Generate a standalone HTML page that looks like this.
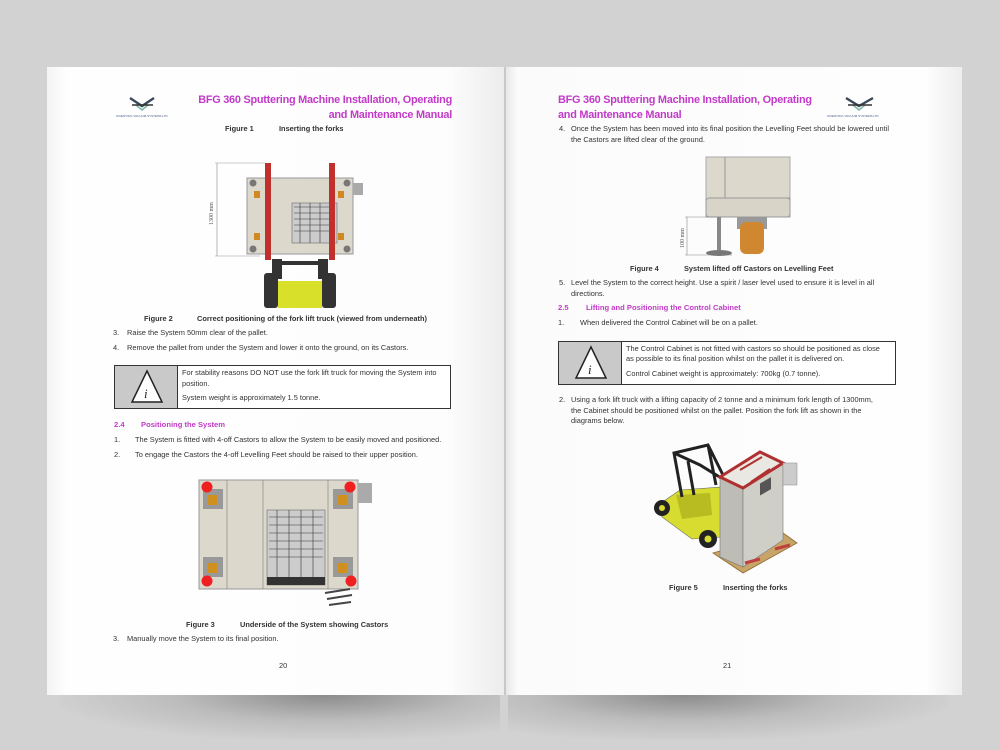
<!DOCTYPE html>
<html><head><meta charset="utf-8"><style>
*{margin:0;padding:0;box-sizing:border-box}
body{width:1000px;height:750px;background:#d2d2d2;position:relative;overflow:hidden;font-family:"Liberation Sans",sans-serif;color:#333}
.abs{position:absolute}
.t{position:absolute;font-size:7.4px;white-space:nowrap;color:#333;letter-spacing:0px}
.ttl{position:absolute;font-size:10.9px;font-weight:bold;color:#c23ac8;white-space:nowrap;letter-spacing:-0.25px}
.h{position:absolute;font-size:7.6px;font-weight:bold;color:#c23ac8;white-space:nowrap}
.page{position:absolute;top:67px;height:628px;background:#fdfdfd}
</style></head><body>
<div class="abs" style="left:60px;top:695px;width:440px;height:45px;background:radial-gradient(ellipse at 60% 0%,#8c8c8c 0%,#bcbcbc 40%,#d2d2d2 75%)"></div>
<div class="abs" style="left:508px;top:695px;width:440px;height:45px;background:radial-gradient(ellipse at 40% 0%,#8c8c8c 0%,#bcbcbc 40%,#d2d2d2 75%)"></div>
<div class="page" style="left:47px;width:458px;background:linear-gradient(90deg,#f4f4f4 0px,#fefefe 20px,#fdfdfd 400px,#ececec 458px)"></div>
<div class="page" style="left:505px;width:457px;background:linear-gradient(90deg,#e6e6e6 0px,#fbfbfb 12px,#fefefe 420px,#ededed 457px)"></div>
<div class="abs" style="left:504px;top:67px;width:2px;height:628px;background:#c8c8c8"></div>

<!-- left header -->
<svg class="abs" style="left:128px;top:96px" width="30" height="16"><path d="M2 2 L14 10 L26 2" stroke="#3a4a5a" stroke-width="2.4" fill="none"/><path d="M8 9 L14 14 L20 9" stroke="#7fb8a8" stroke-width="1.6" fill="none"/><line x1="4" y1="9" x2="25" y2="9" stroke="#333" stroke-width="1.4"/></svg>
<div class="abs" style="left:116px;top:114px;font-size:3px;color:#4a5a8a;white-space:nowrap">SCIENTIFIC VACUUM SYSTEMS LTD</div>
<div class="ttl" style="right:548px;top:94px">BFG 360 Sputtering Machine Installation, Operating</div>
<div class="ttl" style="right:548px;top:109px">and Maintenance Manual</div>
<div class="t" style="left:225px;top:124px;font-weight:bold">Figure 1</div>
<div class="t" style="left:279px;top:124px;font-weight:bold">Inserting the forks</div>

<!-- figure 2 -->
<svg class="abs" style="left:200px;top:155px" width="180" height="160">
<line x1="15" y1="8" x2="65" y2="8" stroke="#999" stroke-width="0.6"/><line x1="15" y1="101" x2="60" y2="101" stroke="#999" stroke-width="0.6"/>
<line x1="17" y1="8" x2="17" y2="101" stroke="#888" stroke-width="0.6"/>
<text x="13" y="70" font-size="6" fill="#555" transform="rotate(-90 13 70)" font-family="Liberation Serif">1300 mm</text>
<rect x="47" y="23" width="106" height="76" fill="#dcd8cc" stroke="#999"/>
<rect x="153" y="28" width="10" height="12" fill="#aaa"/>
<rect x="92" y="48" width="45" height="40" fill="#ccc" stroke="#555" stroke-width="0.5"/>
<path d="M94 52h40M94 58h40M94 64h40M94 70h40M94 76h40M100 48v40M110 48v40M120 48v40" stroke="#333" stroke-width="0.6"/>
<circle cx="53" cy="28" r="3.5" fill="#777"/><circle cx="147" cy="28" r="3.5" fill="#777"/><circle cx="53" cy="94" r="3.5" fill="#777"/><circle cx="147" cy="94" r="3.5" fill="#777"/>
<rect x="54" y="36" width="6" height="7" fill="#d08820"/><rect x="138" y="36" width="6" height="7" fill="#d08820"/><rect x="54" y="78" width="6" height="7" fill="#d08820"/><rect x="138" y="78" width="6" height="7" fill="#d08820"/>
<rect x="65" y="8" width="6" height="97" fill="#c0302c"/><rect x="129" y="8" width="6" height="97" fill="#c0302c"/>
<rect x="72" y="104" width="10" height="20" fill="#333"/><rect x="118" y="104" width="10" height="20" fill="#333"/><rect x="72" y="106" width="56" height="4" fill="#333"/>
<rect x="78" y="126" width="44" height="27" fill="#d8e02a"/>
<rect x="64" y="118" width="14" height="35" rx="3" fill="#333"/><rect x="122" y="118" width="14" height="35" rx="3" fill="#333"/>
</svg>
<div class="t" style="left:144px;top:314px;font-weight:bold">Figure 2</div>
<div class="t" style="left:197px;top:314px;font-weight:bold">Correct positioning of the fork lift truck (viewed from underneath)</div>
<div class="t" style="left:113px;top:328px">3.</div><div class="t" style="left:127px;top:328px">Raise the System 50mm clear of the pallet.</div>
<div class="t" style="left:113px;top:343px">4.</div><div class="t" style="left:127px;top:343px">Remove the pallet from under the System and lower it onto the ground, on its Castors.</div>

<div class="abs" style="left:114px;top:365px;width:337px;height:44px;border:1px solid #333;background:#fff"></div>
<div class="abs" style="left:115px;top:366px;width:63px;height:42px;background:#c9c9c9;border-right:1px solid #333"></div>
<svg class="abs" style="left:129px;top:368px" width="36" height="38"><path d="M18 3 L33 34 L3 34 Z" fill="#fff" stroke="#222" stroke-width="1.5"/><text x="15" y="30" font-size="13" font-style="italic" font-family="Liberation Serif" fill="#222">i</text></svg>
<div class="t" style="left:182px;top:368px">For stability reasons DO NOT use the fork lift truck for moving the System into</div>
<div class="t" style="left:182px;top:379px">position.</div>
<div class="t" style="left:182px;top:393px">System weight is approximately 1.5 tonne.</div>

<div class="h" style="left:114px;top:420px">2.4</div><div class="h" style="left:141px;top:420px">Positioning the System</div>
<div class="t" style="left:114px;top:435px">1.</div><div class="t" style="left:135px;top:435px">The System is fitted with 4-off Castors to allow the System to be easily moved and positioned.</div>
<div class="t" style="left:114px;top:450px">2.</div><div class="t" style="left:135px;top:450px">To engage the Castors the 4-off Levelling Feet should be raised to their upper position.</div>

<!-- figure 3 -->
<svg class="abs" style="left:195px;top:475px" width="190" height="135">
<rect x="4" y="5" width="159" height="109" fill="#dcd8cc" stroke="#999"/>
<rect x="163" y="8" width="14" height="20" fill="#aaa"/>
<line x1="32" y1="5" x2="32" y2="114" stroke="#888" stroke-width="0.7"/><line x1="68" y1="5" x2="68" y2="114" stroke="#888" stroke-width="0.7"/><line x1="133" y1="5" x2="133" y2="114" stroke="#888" stroke-width="0.7"/>
<rect x="72" y="35" width="58" height="75" fill="#ccc" stroke="#555" stroke-width="0.5"/>
<path d="M74 42h54M74 50h54M74 58h54M74 66h54M74 74h54M74 82h54M82 35v75M94 35v75M106 35v75M118 35v75" stroke="#333" stroke-width="0.6"/>
<rect x="72" y="102" width="58" height="8" fill="#333"/>
<rect x="8" y="14" width="20" height="20" fill="#999"/><rect x="138" y="14" width="20" height="20" fill="#999"/><rect x="8" y="82" width="20" height="20" fill="#999"/><rect x="138" y="82" width="20" height="20" fill="#999"/>
<rect x="13" y="20" width="9" height="10" fill="#d09020"/><rect x="143" y="20" width="9" height="10" fill="#d09020"/><rect x="13" y="88" width="9" height="10" fill="#d09020"/><rect x="143" y="88" width="9" height="10" fill="#d09020"/>
<circle cx="12" cy="12" r="5.5" fill="#f02020"/><circle cx="155" cy="12" r="5.5" fill="#f02020"/><circle cx="12" cy="106" r="5.5" fill="#f02020"/><circle cx="156" cy="106" r="5.5" fill="#f02020"/>
<path d="M130 118l25 -4M132 124l25 -4M134 130l22 -3" stroke="#444" stroke-width="2"/>
</svg>
<div class="t" style="left:186px;top:620px;font-weight:bold">Figure 3</div>
<div class="t" style="left:240px;top:620px;font-weight:bold">Underside of the System showing Castors</div>
<div class="t" style="left:113px;top:634px">3.</div><div class="t" style="left:127px;top:634px">Manually move the System to its final position.</div>
<div class="t" style="left:279px;top:661px">20</div>

<!-- right header -->
<div class="ttl" style="left:558px;top:94px">BFG 360 Sputtering Machine Installation, Operating</div>
<div class="ttl" style="left:558px;top:109px">and Maintenance Manual</div>
<svg class="abs" style="left:843px;top:96px" width="34" height="16"><path d="M3 2 L16 10 L30 2" stroke="#3a4a5a" stroke-width="2.4" fill="none"/><path d="M10 9 L16 14 L22 9" stroke="#7fb8a8" stroke-width="1.6" fill="none"/><line x1="5" y1="9" x2="29" y2="9" stroke="#333" stroke-width="1.4"/></svg>
<div class="abs" style="left:827px;top:114px;font-size:3px;color:#4a5a8a;white-space:nowrap">SCIENTIFIC VACUUM SYSTEMS LTD</div>
<div class="t" style="left:559px;top:124px">4.</div><div class="t" style="left:571px;top:124px">Once the System has been moved into its final position the Levelling Feet should be lowered until</div>
<div class="t" style="left:571px;top:135px">the Castors are lifted clear of the ground.</div>

<!-- figure 4 -->
<svg class="abs" style="left:670px;top:150px" width="130" height="110">
<rect x="36" y="7" width="84" height="60" fill="#dcd8cc" stroke="#aaa"/>
<line x1="55" y1="7" x2="55" y2="48" stroke="#999"/><line x1="55" y1="48" x2="120" y2="48" stroke="#999"/>
<rect x="36" y="48" width="84" height="19" rx="3" fill="#d8d4c8" stroke="#999"/>
<line x1="15" y1="67" x2="52" y2="67" stroke="#888" stroke-width="0.6"/><line x1="15" y1="105" x2="62" y2="105" stroke="#888" stroke-width="0.6"/>
<line x1="17" y1="67" x2="17" y2="105" stroke="#888" stroke-width="0.6"/>
<text x="14" y="98" font-size="6" fill="#555" transform="rotate(-90 14 98)" font-family="Liberation Serif">100 mm</text>
<rect x="47" y="67" width="4" height="33" fill="#888"/>
<ellipse cx="49" cy="103" rx="13" ry="3" fill="#777"/>
<rect x="67" y="67" width="30" height="12" fill="#999"/>
<rect x="70" y="72" width="24" height="32" rx="6" fill="#d08830"/>
</svg>
<div class="t" style="left:630px;top:264px;font-weight:bold">Figure 4</div>
<div class="t" style="left:684px;top:264px;font-weight:bold">System lifted off Castors on Levelling Feet</div>
<div class="t" style="left:559px;top:278px">5.</div><div class="t" style="left:571px;top:278px">Level the System to the correct height. Use a spirit / laser level used to ensure it is level in all</div>
<div class="t" style="left:571px;top:289px">directions.</div>
<div class="h" style="left:558px;top:303px">2.5</div><div class="h" style="left:586px;top:303px">Lifting and Positioning the Control Cabinet</div>
<div class="t" style="left:558px;top:318px">1.</div><div class="t" style="left:580px;top:318px">When delivered the Control Cabinet will be on a pallet.</div>

<div class="abs" style="left:558px;top:341px;width:338px;height:44px;border:1px solid #333;background:#fff"></div>
<div class="abs" style="left:559px;top:342px;width:63px;height:42px;background:#c9c9c9;border-right:1px solid #333"></div>
<svg class="abs" style="left:573px;top:344px" width="36" height="38"><path d="M18 3 L33 34 L3 34 Z" fill="#fff" stroke="#222" stroke-width="1.5"/><text x="15" y="30" font-size="13" font-style="italic" font-family="Liberation Serif" fill="#222">i</text></svg>
<div class="t" style="left:626px;top:344px">The Control Cabinet is not fitted with castors so should be positioned as close</div>
<div class="t" style="left:626px;top:354px">as possible to its final position whilst on the pallet it is delivered on.</div>
<div class="t" style="left:626px;top:369px">Control Cabinet weight is approximately: 700kg (0.7 tonne).</div>

<div class="t" style="left:559px;top:395px">2.</div><div class="t" style="left:571px;top:395px">Using a fork lift truck with a lifting capacity of 2 tonne and a minimum fork length of 1300mm,</div>
<div class="t" style="left:571px;top:406px">the Cabinet should be positioned whilst on the pallet. Position the fork lift as shown in the</div>
<div class="t" style="left:571px;top:416px">diagrams below.</div>

<!-- figure 5 -->
<svg class="abs" style="left:650px;top:435px" width="160" height="145">
<path d="M8 70 L30 55 L72 52 L72 102 L42 104 L12 82 Z" fill="#d8dc30" stroke="#666" stroke-width="0.6"/>
<path d="M26 60 L60 58 L62 80 L32 84 Z" fill="#b8bc20"/>
<path d="M32 62 L24 18 L58 10 L76 46 M44 60 L38 26 M58 10 L66 50 M24 18 L50 30 L76 46" stroke="#222" stroke-width="3" fill="none"/>
<circle cx="12" cy="73" r="8" fill="#222"/><circle cx="12" cy="73" r="3" fill="#d8dc30"/>
<circle cx="58" cy="104" r="9" fill="#222"/><circle cx="58" cy="104" r="3.5" fill="#d8dc30"/>
<path d="M63 118 L133 98 L147 108 L93 138 Z" fill="#c9a468" stroke="#8a6a30" stroke-width="0.8"/>
<path d="M70 42 L93 53 L93 132 L70 122 Z" fill="#bdbdb6" stroke="#777" stroke-width="0.6"/>
<path d="M93 53 L133 28 L133 105 L93 132 Z" fill="#cfcfc8" stroke="#777" stroke-width="0.6"/>
<path d="M70 42 L110 17 L133 28 L93 53 Z" fill="#eae8e2" stroke="#b03030" stroke-width="3"/>
<path d="M90 35 L112 22 M101 47 L120 34" stroke="#b03030" stroke-width="2"/>
<rect x="110" y="48" width="11" height="12" fill="#555" transform="skewY(-30) translate(0,64)"/>
<rect x="133" y="28" width="14" height="22" fill="#ccc" stroke="#888" stroke-width="0.5"/>
<path d="M95 128 L110 124 M125 114 L140 110" stroke="#c04040" stroke-width="3"/>
</svg>
<div class="t" style="left:669px;top:583px;font-weight:bold">Figure 5</div>
<div class="t" style="left:723px;top:583px;font-weight:bold">Inserting the forks</div>
<div class="t" style="left:723px;top:661px">21</div>
</body></html>
